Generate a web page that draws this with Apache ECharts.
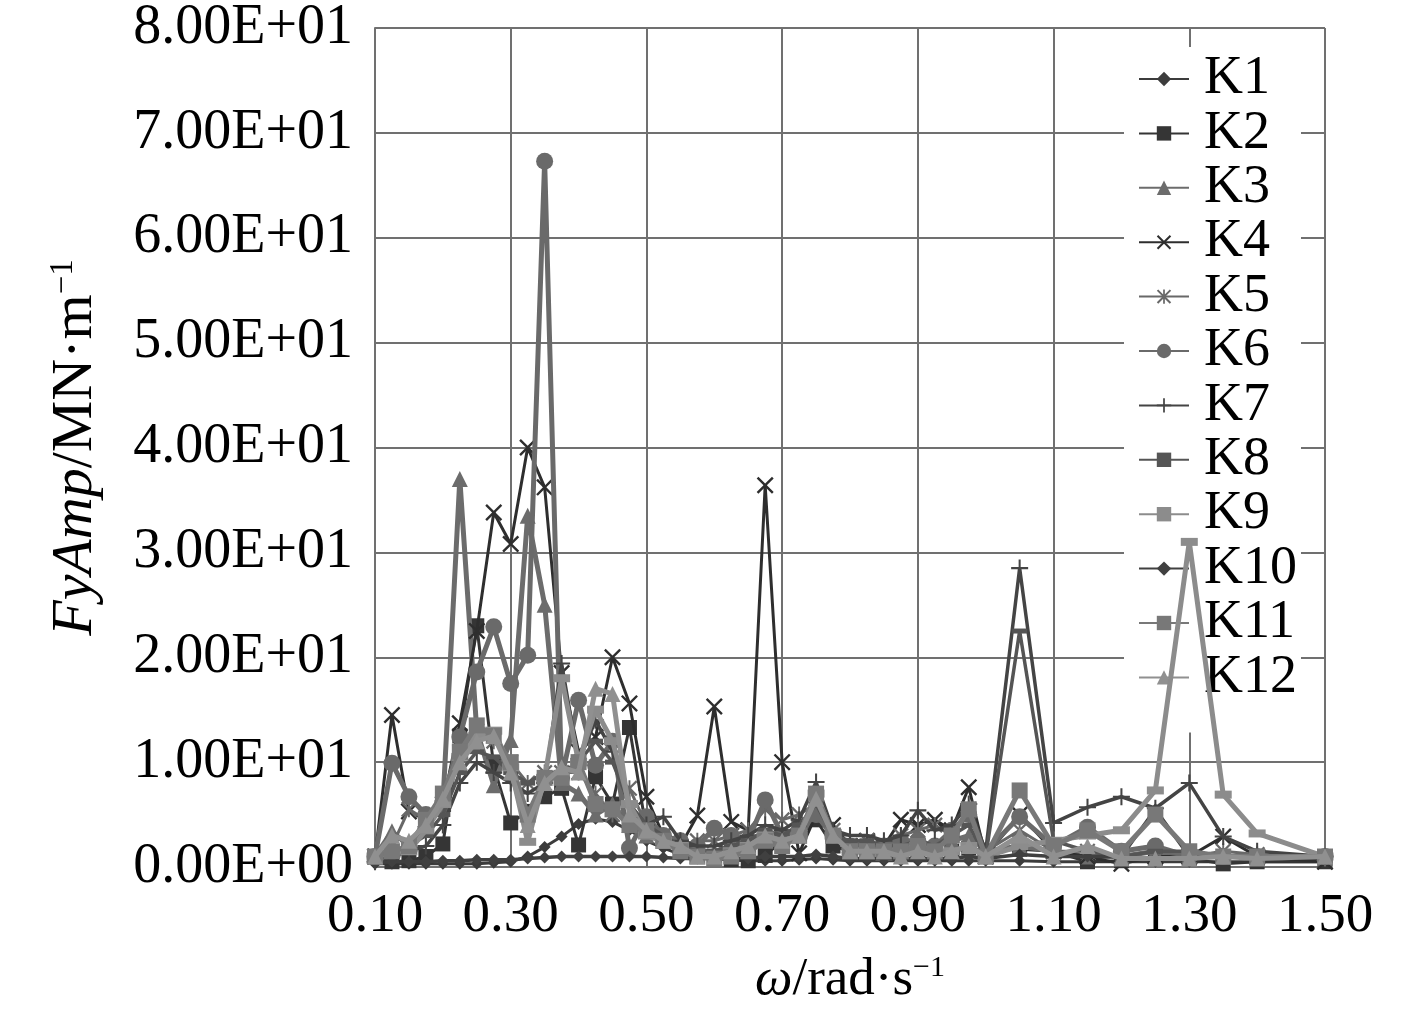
<!DOCTYPE html>
<html>
<head>
<meta charset="utf-8">
<script src="https://cdn.jsdelivr.net/npm/echarts@6/dist/echarts.min.js"></script>
<style>
html,body{margin:0;padding:0;background:#fff;}
#chart{width:1417px;height:1016px;}
</style>
</head>
<body>
<div id="chart"></div>
<script>
var omega = [0.100,0.125,0.150,0.175,0.200,0.225,0.250,0.275,0.300,0.325,0.350,0.375,0.400,0.425,0.450,0.475,0.500,0.525,0.550,0.575,0.600,0.625,0.650,0.675,0.700,0.725,0.750,0.775,0.800,0.825,0.850,0.875,0.900,0.925,0.950,0.975,1.000,1.05,1.10,1.15,1.20,1.25,1.30,1.35,1.40,1.50];

var K1 = [0.3,0.3,0.3,0.3,0.3,0.3,0.3,0.4,0.5, 1.0,1.9,2.9,4.1,4.6,4.3,3.5,2.5, 1.8,1.2,0.9,0.8,0.7,0.6,0.6,0.6,0.7,0.8,0.7,0.6,0.6,0.6,0.6,0.6,0.6,0.6,0.6,0.6, 0.6,0.5,0.5,0.5,0.5,0.5,0.5,0.5,0.5];
var K2 = [1.0,0.5,0.6,1.0,2.2,12.5,23.0,9.6,4.2, 5.3,6.7,7.5,2.1,8.6,6.0,13.3,3.5, 2.5,1.5,1.0,0.8,0.7,0.6,1.1,2.5,3.0,4.5,2.0,1.5,1.5,1.8,1.5,1.5,1.2,1.5,1.8,1.5, 1.7,1.5,0.5,0.6,0.8,0.8,0.3,0.5,0.5];
var K3 = [1.0,3.4,2.0,4.0,6.0,37.0,13.0,7.8,12.1, 33.5,25.0,8.0,7.0,5.0,6.0,4.0,3.0, 2.5,2.0,1.5,1.5,2.0,2.5,3.0,2.5,3.0,5.0,3.0,2.0,2.0,2.0,2.0,2.5,2.0,2.5,3.0,1.5, 2.0,1.5,1.0,1.0,1.5,1.0,1.0,1.0,1.0];
var K4 = [1.0,14.5,5.3,4.5,6.0,13.7,22.5,33.8,30.8, 40.0,36.2,18.5,11.0,12.4,20.0,15.6,6.7, 3.0,2.0,4.9,15.3,4.3,3.5,36.4,10.0,1.3,5.0,4.0,2.0,2.5,2.0,4.5,4.0,4.5,3.5,7.6,1.0, 5.0,1.5,1.0,0.3,1.0,1.0,2.9,1.0,0.5];
var K5 = [1.0,2.0,5.5,4.5,6.5,11.0,13.0,12.0,10.0, 8.0,9.0,9.0,9.0,7.0,5.0,7.5,4.0, 3.0,2.0,2.5,2.5,3.0,3.5,5.5,4.5,5.0,6.0,3.5,2.0,2.5,2.0,3.0,3.5,4.0,3.0,5.5,1.5, 3.5,1.5,1.5,1.0,1.5,1.0,1.5,1.2,0.8];
var K6 = [1.0,9.9,6.7,5.0,6.0,12.4,18.6,22.9,17.5, 20.2,67.3,8.5,15.9,9.7,12.0,1.8,4.8, 3.0,2.5,2.0,3.7,3.0,2.5,6.4,3.0,3.5,5.0,3.0,2.0,2.0,2.0,2.5,2.5,2.0,3.5,5.0,1.5, 4.8,2.0,3.8,1.5,2.0,1.0,1.0,1.0,1.0];
var K7 = [0.5,1.0,1.5,2.0,4.0,8.0,10.0,9.0,8.0, 7.0,8.0,19.4,10.0,14.0,11.0,6.0,4.0, 4.8,2.5,2.0,2.0,2.5,3.0,4.0,3.5,4.5,8.1,3.5,3.0,3.0,2.5,3.0,5.4,3.5,4.0,6.0,1.5, 28.5,4.2,5.7,6.7,5.6,8.0,2.9,1.5,1.0];
var K8 = [1.0,1.5,2.0,3.0,5.0,9.0,11.0,10.5,9.0, 8.0,9.0,9.0,10.0,12.0,10.0,6.0,4.0, 3.0,2.0,1.5,1.5,2.0,2.5,3.5,3.0,4.0,6.0,3.0,2.5,2.5,2.0,2.0,2.5,2.0,3.0,4.0,1.0, 22.5,2.5,1.5,1.0,1.5,1.5,1.0,1.0,0.8];
var K9 = [1.0,1.5,1.5,3.5,6.0,10.5,12.5,13.0,9.5, 2.4,8.5,18.0,10.0,15.0,12.0,6.0,3.0, 2.5,2.0,1.0,1.0,1.5,2.0,3.0,2.5,3.0,7.0,3.0,1.5,1.5,1.0,1.5,2.0,1.5,1.5,2.0,1.0, 2.0,2.5,3.0,3.5,7.3,31.0,6.9,3.2,1.0];
var K10 = [0.4,0.5,0.5,0.5,0.6,0.6,0.7,0.7,0.7, 0.8,0.9,1.0,1.0,1.0,1.0,1.0,1.0, 0.9,0.8,0.8,0.8,0.8,0.8,1.0,1.0,1.0,1.2,1.0,0.8,0.8,0.8,0.8,0.8,0.8,0.8,1.0,0.8, 1.2,1.0,1.0,1.0,5.5,1.0,1.0,1.0,0.8];
var K11 = [1.0,1.5,2.0,4.5,7.0,11.0,13.5,12.5,10.0, 5.0,8.5,8.5,10.0,6.0,5.5,4.0,3.5, 2.5,1.5,1.0,0.8,1.0,1.5,2.5,2.0,3.0,7.0,3.0,1.5,1.5,1.5,1.5,2.0,1.5,3.0,5.5,1.0, 7.3,2.0,3.5,1.5,5.0,1.5,1.0,1.0,1.0];
var K12 = [1.0,3.0,2.5,4.0,6.5,10.0,12.0,12.5,9.0, 4.0,8.0,9.5,9.0,17.0,16.5,5.0,3.5, 2.5,2.0,1.0,1.0,1.5,2.0,3.0,2.5,3.0,6.5,3.0,1.5,1.5,1.5,1.0,1.5,1.0,1.5,2.0,1.0, 3.0,1.0,2.0,0.8,0.8,0.8,1.0,0.8,1.0];

var seriesNames = ['K1','K2','K3','K4','K5','K6','K7','K8','K9','K10','K11','K12'];
var seriesValues = [K1,K2,K3,K4,K5,K6,K7,K8,K9,K10,K11,K12];

var SYM_X = 'path://M1,0L5,4L9,0L10,1L6,5L10,9L9,10L5,6L1,10L0,9L4,5L0,1Z';
var SYM_AST = 'path://M1,0L5,4L9,0L10,1L6,5L10,9L9,10L5,6L1,10L0,9L4,5L0,1Z M4.4,0H5.6V10H4.4Z';
var SYM_PLUS = 'path://M4.4,0H5.6V4.4H10V5.6H5.6V10H4.4V5.6H0V4.4H4.4Z';
var SYM_DASH = 'path://M0,0H10V3H0Z';

var styles = [
  {color:'#3c3c3c', symbol:'diamond', size:12, width:3},
  {color:'#353535', symbol:'rect', size:15, width:3},
  {color:'#6c6c6c', symbol:'triangle', size:16, width:5},
  {color:'#2e2e2e', symbol:SYM_X, size:17, width:3},
  {color:'#686868', symbol:SYM_AST, size:16, width:3},
  {color:'#6a6a6a', symbol:'circle', size:17, width:5},
  {color:'#444444', symbol:SYM_PLUS, size:17, width:3.5},
  {color:'#555555', symbol:SYM_DASH, size:[15,5], width:3.5},
  {color:'#8c8c8c', symbol:SYM_DASH, size:[17,8], width:5},
  {color:'#404040', symbol:'diamond', size:12, width:3.5},
  {color:'#787878', symbol:'rect', size:16, width:5},
  {color:'#909090', symbol:'triangle', size:16, width:5}
];

function fmtE(v){
  if (v === 0) return '0.00E+00';
  var e = Math.floor(Math.log10(Math.abs(v)) + 1e-9);
  var m = v / Math.pow(10, e);
  var s = e < 0 ? '-' : '+';
  var ea = Math.abs(e);
  return m.toFixed(2) + 'E' + s + (ea < 10 ? '0' + ea : '' + ea);
}

var FONT = 'Liberation Serif';

var series = seriesNames.map(function(name, k){
  var st = styles[k];
  return {
    name: name,
    type: 'line',
    data: omega.map(function(x, i){ return [x, seriesValues[k][i]]; }),
    symbol: st.symbol,
    symbolSize: st.size,
    showSymbol: true,
    lineStyle: {color: st.color, width: st.width},
    itemStyle: {color: st.color},
    emphasis: {disabled: true},
    z: 2 + k * 0.01
  };
});

var chart = echarts.init(document.getElementById('chart'), null, {renderer:'canvas'});
chart.setOption({
  animation: false,
  backgroundColor: '#ffffff',
  grid: {left: 375, right: 92, top: 27, bottom: 149, containLabel: false},
  legend: {
    data: seriesNames,
    orient: 'vertical',
    left: 1124,
    top: 47,
    padding: [5, 4, 28, 14],
    itemWidth: 50,
    itemHeight: 18,
    itemGap: 0.4,
    backgroundColor: '#ffffff',
    z: 1,
    textStyle: {fontFamily: FONT, fontSize: 54, color: '#000', lineHeight: 50, padding: [0, 0, 0, 10]}
  },
  xAxis: {
    type: 'value',
    min: 0.1, max: 1.5, interval: 0.2,
    axisLine: {show: true, lineStyle: {color: '#707070', width: 2}},
    axisTick: {show: false},
    splitLine: {show: true, lineStyle: {color: '#707070', width: 2}},
    axisLabel: {
      fontFamily: FONT, fontSize: 55, color: '#000', margin: 22,
      formatter: function(v){ return v.toFixed(2); }
    },
    name: '{i|ω}{n|/rad·s}{s|−1}',
    nameLocation: 'middle',
    nameGap: 86,
    nameTextStyle: {
      fontFamily: FONT, fontSize: 53, color: '#000', lineHeight: 54,
      rich: {
        i: {fontFamily: FONT, fontSize: 53, fontStyle: 'italic', color: '#000', lineHeight: 54},
        n: {fontFamily: FONT, fontSize: 53, color: '#000', lineHeight: 54},
        s: {fontFamily: FONT, fontSize: 30, color: '#000', lineHeight: 54, verticalAlign: 'top'}
      }
    }
  },
  yAxis: {
    type: 'value',
    min: 0, max: 80, interval: 10,
    axisLine: {show: true, lineStyle: {color: '#707070', width: 2}},
    axisTick: {show: false},
    splitLine: {show: true, lineStyle: {color: '#707070', width: 2}},
    axisLabel: {
      fontFamily: FONT, fontSize: 56, color: '#000', margin: 22,
      formatter: fmtE
    },
    name: '{i|FyAmp}{n|/MN·m}{s|−1}',
    nameLocation: 'middle',
    nameRotate: 90,
    nameGap: 270,
    nameTextStyle: {
      fontFamily: FONT, fontSize: 58, color: '#000', lineHeight: 58,
      rich: {
        i: {fontFamily: FONT, fontSize: 58, fontStyle: 'italic', color: '#000', lineHeight: 58},
        n: {fontFamily: FONT, fontSize: 58, color: '#000', lineHeight: 58},
        s: {fontFamily: FONT, fontSize: 33, color: '#000', lineHeight: 58, verticalAlign: 'top'}
      }
    }
  },
  series: series
});
</script>
</body>
</html>
